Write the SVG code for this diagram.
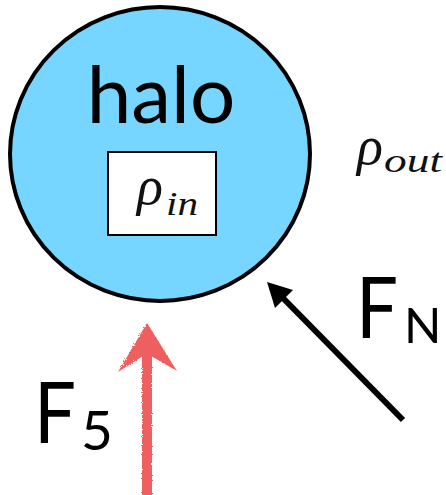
<svg xmlns="http://www.w3.org/2000/svg" width="446" height="495" viewBox="0 0 446 495">
<style>
.sans{font-family:Lato,"Open Sans","Liberation Sans",sans-serif;fill:#000}
.math{font-family:"Liberation Serif","DejaVu Serif",serif;font-style:italic;fill:#111}
</style>
<defs>
<filter id="crayon" x="-20%" y="-5%" width="140%" height="110%">
<feTurbulence type="fractalNoise" baseFrequency="0.9" numOctaves="2" result="n"/>
<feDisplacementMap in="SourceGraphic" in2="n" scale="3"/>
</filter>
</defs>
<rect width="446" height="495" fill="#fff"/>
<g id="halo">
<ellipse cx="160" cy="154" rx="150" ry="147" fill="#76D6FF" stroke="#000" stroke-width="4"/>
<text class="sans" x="161" y="123" font-size="80" text-anchor="middle">halo</text>
</g>
<g id="rho_in">
<rect x="108" y="152" width="108" height="83" fill="#fff" stroke="#000" stroke-width="2"/>
<text class="math" x="137" y="204" font-size="54">ρ<tspan x="166" y="215" font-size="34" textLength="32" lengthAdjust="spacingAndGlyphs">in</tspan></text>
</g>
<g id="rho_out">
<text class="math" x="357" y="164" font-size="54">ρ<tspan x="384" y="172" font-size="34" textLength="58" lengthAdjust="spacingAndGlyphs">out</tspan></text>
</g>
<g id="connectors">
<g id="F_N_arrow">
<line x1="403" y1="420" x2="280" y2="295" stroke="#000" stroke-width="6"/>
<polygon points="267,282 293,290 275,308" fill="#000"/>
</g>
<g id="F_5_arrow" filter="url(#crayon)" fill="#EE5E5E">
<rect x="142" y="352" width="10" height="145"/>
<polygon points="147,323 177,371 151,356 143,356 118,372"/>
</g>
</g>
<g id="F_N">
<text class="sans" x="356" y="338" font-size="85" textLength="42" lengthAdjust="spacingAndGlyphs">F</text>
<text class="sans" x="404" y="343" font-size="49">N</text>
</g>
<g id="F_5">
<text class="sans" x="34" y="443" font-size="85" textLength="42" lengthAdjust="spacingAndGlyphs">F</text>
<text class="sans" x="81" y="450" font-size="55">5</text>
</g>
</svg>
